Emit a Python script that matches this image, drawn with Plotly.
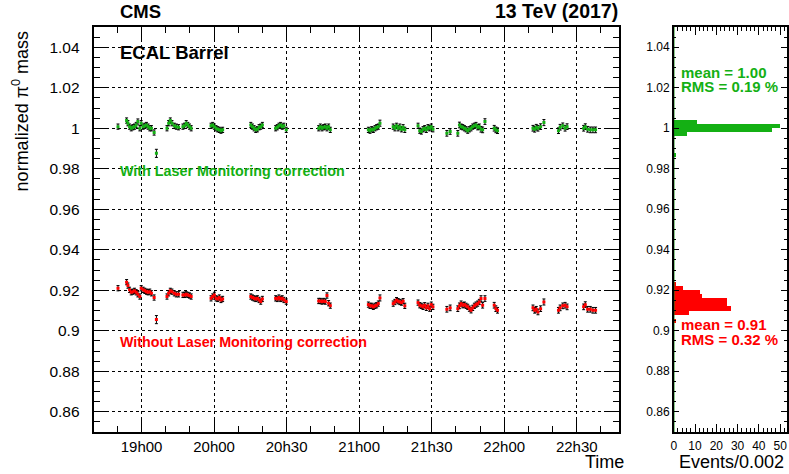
import plotly.graph_objects as go

# ---------------- data ----------------
# time in minutes, measured from the first labelled tick
time_min = [
    -9.75,
    -6.19, -5.64, -4.96, -4.27, -3.59, -2.90, -2.22, -1.53,
    -0.71, -0.16, 0.66, 1.34, 2.03, 2.71, 3.40, 4.08, 5.20,
    6.14,
    10.52, 11.20, 11.89, 12.58, 13.53, 14.36, 15.32,
    17.10, 17.78, 18.47, 19.15, 19.84, 20.52,
    28.74, 29.42, 30.11, 30.79, 31.48, 32.17, 32.85, 33.53,
    45.18, 45.86, 46.55, 47.23, 47.92, 48.60, 49.29, 49.97,
    55.45, 56.14, 56.82, 57.51, 58.19, 58.88, 59.84,
    73.26, 73.94, 74.63, 75.32, 76.00, 76.69, 77.37, 78.06,
    93.81, 94.49, 95.18, 95.86, 96.55, 97.23, 97.92, 98.60,
    104.08, 104.77, 105.45, 106.14, 106.82, 107.51, 108.19, 108.88,
    114.36, 115.04, 115.73, 116.41, 117.10, 117.78, 118.47, 119.15, 119.84, 120.52,
    126.27, 127.64,
    130.80, 131.48, 132.17, 132.85, 133.54, 134.22, 134.91, 135.59, 136.28,
    136.96, 137.65, 138.33, 139.02, 139.70, 140.39, 141.07, 142.03,
    145.86, 146.55, 147.23,
    161.89, 162.58, 163.26, 163.95, 165.04, 166.41,
    172.44, 173.12, 174.22, 175.18, 176.00,
    182.85, 183.53, 184.49, 185.59, 186.68, 187.78,
]

mass_with = [
    1.0008,
    1.0038, 1.0025, 1.0008, 1.0000, 1.0005, 1.0008, 1.0016, 1.0033,
    1.0000, 1.0025, 1.0008, 1.0012, 1.0016, 1.0008, 1.0000, 1.0000, 0.9979,
    0.9876,
    1.0000, 1.0025, 1.0038, 1.0025, 1.0012, 1.0008, 1.0005,
    1.0008, 1.0012, 1.0025, 1.0016, 1.0008, 1.0000,
    1.0012, 1.0016, 1.0008, 1.0000, 0.9995, 0.9992, 0.9988, 0.9992,
    1.0016, 1.0008, 1.0000, 0.9992, 0.9995, 1.0005, 1.0008, 1.0016,
    1.0000, 1.0005, 1.0012, 1.0016, 1.0008, 1.0012, 0.9992,
    1.0000, 1.0008, 1.0000, 1.0005, 1.0008, 1.0000, 1.0008, 0.9992,
    0.9992, 0.9988, 0.9995, 0.9992, 1.0000, 1.0005, 1.0008, 1.0025,
    1.0008, 1.0000, 1.0012, 1.0000, 1.0008, 0.9995, 1.0005, 0.9992,
    1.0012, 0.9988, 0.9984, 0.9995, 1.0000, 0.9992, 1.0005, 1.0000, 1.0008, 0.9995,
    0.9975, 0.9984,
    0.9975, 1.0016, 1.0008, 1.0005, 1.0000, 0.9995, 0.9988, 0.9995, 1.0000,
    1.0008, 1.0012, 1.0016, 1.0005, 1.0008, 0.9995, 0.9992, 1.0033,
    1.0000, 0.9992, 0.9988,
    1.0000, 0.9995, 1.0005, 1.0000, 1.0008, 1.0028,
    0.9988, 1.0005, 1.0012, 1.0000, 1.0008,
    1.0000, 1.0008, 0.9995, 0.9992, 0.9992, 0.9992,
]

mass_without = [
    0.9210,
    0.9240, 0.9223, 0.9202, 0.9190, 0.9193, 0.9197, 0.9190, 0.9180,
    0.9169, 0.9210, 0.9202, 0.9197, 0.9193, 0.9190, 0.9193, 0.9185, 0.9164,
    0.9055,
    0.9169, 0.9185, 0.9197, 0.9193, 0.9185, 0.9180, 0.9180,
    0.9177, 0.9177, 0.9180, 0.9177, 0.9174, 0.9169,
    0.9160, 0.9169, 0.9177, 0.9160, 0.9157, 0.9164, 0.9152, 0.9157,
    0.9169, 0.9164, 0.9160, 0.9157, 0.9160, 0.9152, 0.9144, 0.9157,
    0.9160, 0.9157, 0.9164, 0.9157, 0.9160, 0.9152, 0.9144,
    0.9147, 0.9147, 0.9144, 0.9147, 0.9144, 0.9174, 0.9136, 0.9124,
    0.9129, 0.9123, 0.9123, 0.9118, 0.9123, 0.9126, 0.9134, 0.9162,
    0.9134, 0.9142, 0.9151, 0.9146, 0.9142, 0.9139, 0.9146, 0.9123,
    0.9139, 0.9126, 0.9123, 0.9118, 0.9126, 0.9113, 0.9123, 0.9109, 0.9129, 0.9118,
    0.9106, 0.9113,
    0.9109, 0.9123, 0.9134, 0.9126, 0.9129, 0.9123, 0.9118, 0.9109, 0.9101,
    0.9113, 0.9123, 0.9129, 0.9134, 0.9142, 0.9159, 0.9126, 0.9159,
    0.9126, 0.9109, 0.9101,
    0.9113, 0.9101, 0.9106, 0.9093, 0.9109, 0.9142,
    0.9101, 0.9113, 0.9123, 0.9126, 0.9118,
    0.9118, 0.9129, 0.9106, 0.9106, 0.9101, 0.9101,
]

mass_err = [
    0.0013,
    0.0013, 0.0013, 0.0013, 0.0013, 0.0013, 0.0013, 0.0013, 0.0013,
    0.0013, 0.0013, 0.0013, 0.0013, 0.0013, 0.0013, 0.0013, 0.0013, 0.0013,
    0.0020,
    0.0013, 0.0013, 0.0013, 0.0013, 0.0013, 0.0013, 0.0013,
    0.0013, 0.0013, 0.0013, 0.0013, 0.0013, 0.0013,
    0.0013, 0.0013, 0.0013, 0.0013, 0.0013, 0.0013, 0.0013, 0.0013,
    0.0013, 0.0013, 0.0013, 0.0013, 0.0013, 0.0013, 0.0013, 0.0013,
    0.0013, 0.0013, 0.0013, 0.0013, 0.0013, 0.0013, 0.0013,
    0.0013, 0.0013, 0.0013, 0.0013, 0.0013, 0.0013, 0.0013, 0.0013,
    0.0013, 0.0013, 0.0013, 0.0013, 0.0013, 0.0013, 0.0013, 0.0015,
    0.0013, 0.0013, 0.0013, 0.0013, 0.0013, 0.0013, 0.0013, 0.0013,
    0.0013, 0.0013, 0.0013, 0.0013, 0.0013, 0.0013, 0.0013, 0.0013, 0.0013, 0.0013,
    0.0014, 0.0014,
    0.0014, 0.0014, 0.0013, 0.0013, 0.0013, 0.0013, 0.0013, 0.0013, 0.0013,
    0.0013, 0.0013, 0.0013, 0.0013, 0.0013, 0.0014, 0.0014, 0.0014,
    0.0014, 0.0014, 0.0014,
    0.0014, 0.0014, 0.0014, 0.0014, 0.0014, 0.0015,
    0.0014, 0.0014, 0.0014, 0.0014, 0.0014,
    0.0014, 0.0014, 0.0014, 0.0014, 0.0014, 0.0014,
]

time_tickvals = [0, 30, 60, 90, 120, 150, 180]
time_ticktext = ["19h00", "20h00", "20h30", "21h00", "21h30", "22h00", "22h30"]

mass_tickvals = [0.86, 0.88, 0.90, 0.92, 0.94, 0.96, 0.98, 1.00, 1.02, 1.04]
mass_ticktext = ["0.86", "0.88", "0.9", "0.92", "0.94", "0.96", "0.98", "1", "1.02", "1.04"]

# projected histograms, bin width 0.002
hist_with_centers = [0.987, 0.997, 0.999, 1.001, 1.003]
hist_with_counts = [1, 6, 46, 50, 11]
hist_without_centers = [0.905, 0.909, 0.911, 0.913, 0.915, 0.917, 0.919, 0.921, 0.923]
hist_without_counts = [1, 7, 27, 25, 25, 13, 12, 4, 1]
hist_bin_width = 0.002
events_tickvals = [0, 10, 20, 30, 40, 50]

# ---------------- styling ----------------
W, H = 789, 474
GREEN = "#14b014"
RED = "#ff0000"
FONT = "Liberation Sans, Arial, Helvetica, sans-serif"


def fx(px):
    return px / W


def fy(py):
    return 1 - py / H


fig = go.Figure()

fig.add_trace(go.Scatter(
    x=time_min, y=mass_with, mode="markers",
    marker=dict(symbol="square", size=3, color=GREEN, line=dict(width=0)),
    error_y=dict(type="data", array=mass_err, color="black", thickness=1, width=1.5),
    xaxis="x", yaxis="y", showlegend=False,
))
fig.add_trace(go.Scatter(
    x=time_min, y=mass_without, mode="markers",
    marker=dict(symbol="square", size=3, color=RED, line=dict(width=0)),
    error_y=dict(type="data", array=mass_err, color="black", thickness=1, width=1.5),
    xaxis="x", yaxis="y", showlegend=False,
))

fig.add_trace(go.Bar(
    x=hist_with_counts, y=hist_with_centers, orientation="h", width=hist_bin_width,
    marker=dict(color=GREEN, line=dict(width=0)), xaxis="x2", yaxis="y2", showlegend=False,
))
fig.add_trace(go.Bar(
    x=hist_without_counts, y=hist_without_centers, orientation="h", width=hist_bin_width,
    marker=dict(color=RED, line=dict(width=0)), xaxis="x2", yaxis="y2", showlegend=False,
))
# histogram outline at zero
fig.add_trace(go.Scatter(
    x=[0, 0], y=[0.85, 1.05], mode="lines", line=dict(color="#0a8a0a", width=1.5),
    xaxis="x2", yaxis="y2", showlegend=False, hoverinfo="skip",
))

ydom = [fy(432), fy(27)]

common_axis = dict(
    showline=True, linecolor="black", linewidth=1.5, mirror="allticks",
    ticks="inside", tickcolor="black", tickwidth=1, zeroline=False,
)

fig.update_layout(
    width=W, height=H,
    margin=dict(l=0, r=0, t=0, b=0),
    paper_bgcolor="white", plot_bgcolor="white",
    font=dict(family=FONT, color="black"),
    bargap=0,
    barmode="overlay",
    xaxis=dict(
        domain=[fx(92), fx(620)], range=[-19.5, 197.5], anchor="y",
        tickvals=time_tickvals, ticktext=time_ticktext, ticklen=12,
        tickfont=dict(size=15), ticklabelstandoff=0,
        showgrid=True, gridcolor="black", griddash="dot", gridwidth=1,
        minor=dict(ticks="inside", ticklen=6, dtick=10, tick0=0, tickcolor="black", showgrid=False),
        **common_axis,
    ),
    yaxis=dict(
        domain=ydom, range=[0.85, 1.05], anchor="x",
        tickvals=mass_tickvals, ticktext=mass_ticktext, ticklen=12,
        tickfont=dict(size=15.5), ticklabelstandoff=10,
        showgrid=True, gridcolor="black", griddash="dot", gridwidth=1,
        minor=dict(ticks="inside", ticklen=6, dtick=0.005, tick0=0.85, tickcolor="black", showgrid=False),
        **common_axis,
    ),
    xaxis2=dict(
        domain=[fx(675), 1.0], range=[0, (W + 2 - 675) / 2.18], anchor="y2",
        tickvals=events_tickvals, ticklen=8, tickfont=dict(size=12), ticklabelstandoff=2,
        ticklabeloverflow="allow", showgrid=False,
        minor=dict(ticks="inside", ticklen=4, dtick=2, tick0=0, tickcolor="black", showgrid=False),
        **common_axis,
    ),
    yaxis2=dict(
        domain=ydom, range=[0.85, 1.05], anchor="x2",
        tickvals=mass_tickvals, ticktext=mass_ticktext, ticklen=6,
        tickfont=dict(size=12), ticklabelstandoff=0, showgrid=False,
        minor=dict(ticks="inside", ticklen=3, dtick=0.005, tick0=0.85, tickcolor="black", showgrid=False),
        **common_axis,
    ),
)

ann = []


def add_text(text, px, py, size, color="black", bold=False, xanchor="left"):
    t = f"<b>{text}</b>" if bold else text
    ann.append(dict(text=t, x=fx(px), y=fy(py), xref="paper", yref="paper",
                    xanchor=xanchor, yanchor="middle", showarrow=False,
                    font=dict(size=size, color=color, family=FONT)))


add_text("CMS", 116, 11, 18.5, bold=True)
add_text("13 TeV (2017)", 621, 11, 19.5, bold=True, xanchor="right")
add_text("ECAL Barrel", 116, 52, 18.5, bold=True)
add_text("With Laser Monitoring correction", 116, 171, 14.3, color=GREEN, bold=True)
add_text("Without Laser Monitoring correction", 116, 342, 14.3, color=RED, bold=True)
add_text("mean = 1.00", 680, 72, 15, color=GREEN, bold=True)
add_text("RMS = 0.19 %", 680, 87, 15, color=GREEN, bold=True)
add_text("mean = 0.91", 680, 324, 15, color=RED, bold=True)
add_text("RMS = 0.32 %", 680, 339, 15, color=RED, bold=True)
add_text("Time", 627, 462, 18, xanchor="right")
add_text("Events/0.002", 678, 462, 18)

ann.append(dict(text="normalized π<sup>0</sup> mass", x=fx(18), y=fy(28), xref="paper", yref="paper",
                xanchor="center", yanchor="top", textangle=-90, showarrow=False,
                font=dict(size=18, color="black", family=FONT)))

fig.update_layout(annotations=ann)

# remove the default page margin so the figure fills the 789x474 window exactly
fig.write_html("out.html", config={"displayModeBar": False},
               post_script="document.body.style.margin='0';")
